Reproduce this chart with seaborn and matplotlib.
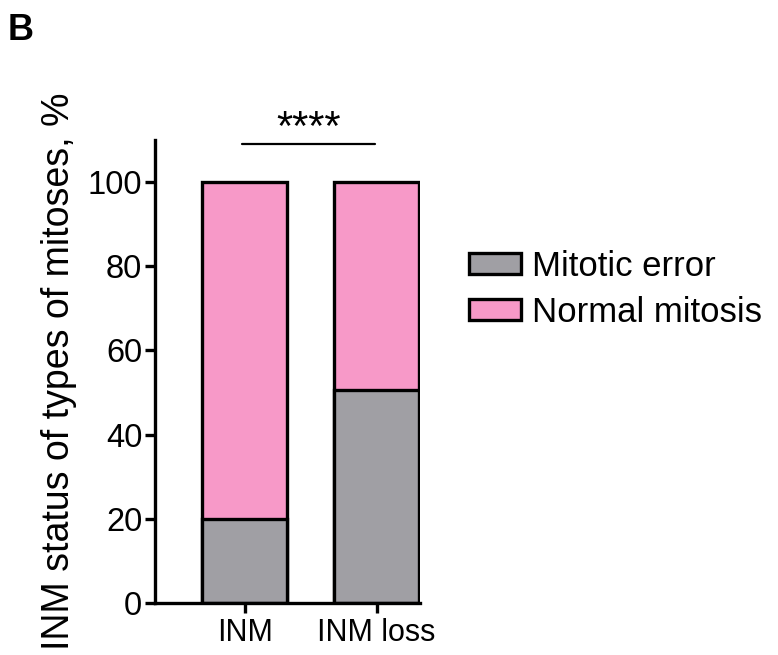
import seaborn as sns
import matplotlib.pyplot as plt
import pandas as pd

# values (percent of mitoses)
groups = ["INM", "INM loss"]
mitotic_error = [20, 50.6]
normal_mitosis = [80, 49.4]
legend_labels = ["Mitotic error", "Normal mitosis"]
y_ticks = [0, 20, 40, 60, 80, 100]

pink = "#F799C8"
grey = "#A09FA4"

sns.set_theme(style="ticks")
plt.rcParams['font.family'] = ['Liberation Sans', 'DejaVu Sans']
plt.rcParams['text.color'] = 'black'
plt.rcParams['xtick.color'] = 'black'
plt.rcParams['ytick.color'] = 'black'
plt.rcParams['axes.labelcolor'] = 'black'

df = pd.DataFrame({"group": groups, "error": mitotic_error, "normal": normal_mitosis})
df["total"] = df["error"] + df["normal"]

fig = plt.figure(figsize=(7.78, 6.55), dpi=100)
ax = fig.add_axes([0.199, 0.0794, 0.341, 0.707])

# stacked bars: full height in pink, error part in grey on top of it
sns.barplot(data=df, x="group", y="total", color=pink, width=0.64,
            edgecolor="black", linewidth=2.4, saturation=1, ax=ax)
sns.barplot(data=df, x="group", y="error", color=grey, width=0.64,
            edgecolor="black", linewidth=2.4, saturation=1, ax=ax)

ax.set_xlim(-0.68, 1.33)
ax.set_ylim(0, 110)
ax.set_yticks(y_ticks)
ax.set_xlabel("")
ax.set_ylabel("INM status of types of mitoses, %", fontsize=27, labelpad=8)
ax.tick_params(axis="y", labelsize=23.5, width=2.4, length=7, pad=2)
ax.tick_params(axis="x", labelsize=22, width=2.4, length=7)
sns.despine(ax=ax)
for s in ["left", "bottom"]:
    ax.spines[s].set_linewidth(2.4)
    ax.spines[s].set_color("black")

# significance bar
ax.plot([-0.02, 0.99], [109, 109], color="black", lw=1.6, clip_on=False)
ax.text(0.485, 112.5, "****", ha="center", va="center", fontsize=30, clip_on=False)

handles = [plt.Rectangle((0, 0), 1, 1, facecolor=grey, edgecolor="black", lw=2.4),
           plt.Rectangle((0, 0), 1, 1, facecolor=pink, edgecolor="black", lw=2.4)]
fig.legend(handles, legend_labels, loc="upper left", bbox_to_anchor=(0.585, 0.64),
           frameon=False, fontsize=25, handlelength=1.5, handleheight=0.55,
           handletextpad=0.3, labelspacing=0.38, borderaxespad=0)

fig.text(0.010, 0.98, "B", fontsize=26, fontweight="bold", va="top", ha="left")

fig.savefig("out.png", dpi=100)
